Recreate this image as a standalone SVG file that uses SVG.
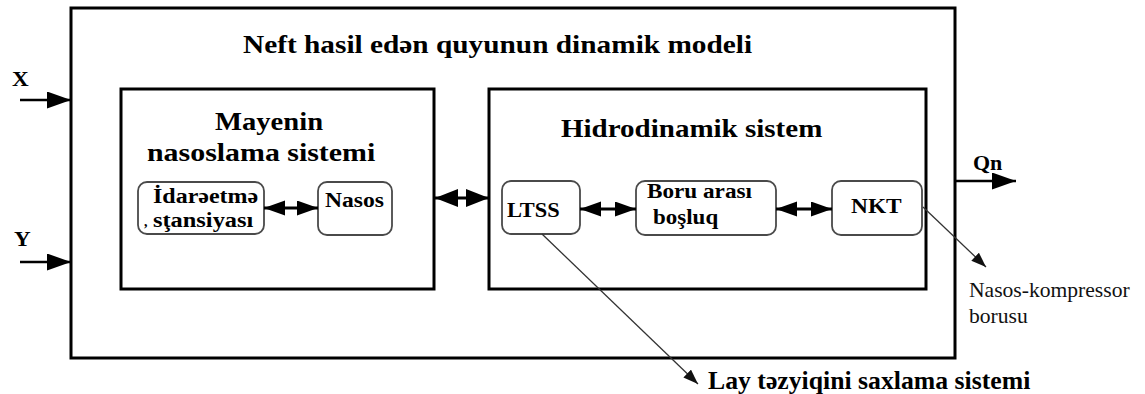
<svg xmlns="http://www.w3.org/2000/svg" width="1145" height="394" viewBox="0 0 1145 394">
  <style>
    .frame { fill: none; stroke: #000; stroke-width: 3; }
    .unit { fill: #fff; stroke: #4a4a4a; stroke-width: 1.8; }
    .bold { font-family: "Liberation Serif", "Times New Roman", serif; font-weight: bold; fill: #000; }
    .plain { font-family: "Liberation Serif", "Times New Roman", serif; fill: #111; }
    .flow { stroke: #000; stroke-width: 2.5; fill: none; }
    .link { stroke: #000; stroke-width: 3; fill: none; }
    .pointer { stroke: #333; stroke-width: 1.3; fill: none; }
  </style>
  <defs>
    <marker id="head" markerUnits="userSpaceOnUse" markerWidth="26" markerHeight="18" refX="24" refY="8.5" orient="auto">
      <path d="M0,0 L24,8.5 L0,17 z" fill="#000"/>
    </marker>
    <marker id="dbl" markerUnits="userSpaceOnUse" markerWidth="24" markerHeight="18" refX="23" refY="9" orient="auto-start-reverse">
      <path d="M0,0 L23,9 L0,18 z" fill="#000"/>
    </marker>
    <marker id="dblSmall" markerUnits="userSpaceOnUse" markerWidth="22" markerHeight="16" refX="21" refY="7.5" orient="auto-start-reverse">
      <path d="M0,0 L21,7.5 L0,15 z" fill="#000"/>
    </marker>
    <marker id="tip" markerUnits="userSpaceOnUse" markerWidth="16" markerHeight="12" refX="15" refY="5.5" orient="auto">
      <path d="M0,0 L15,5.5 L0,11 z" fill="#111"/>
    </marker>
  </defs>

  <!-- outer model boundary -->
  <g id="model">
    <rect class="frame" x="71" y="8" width="884" height="350"/>
    <text class="bold" font-size="26" transform="translate(243 53) scale(1.128 1)">Neft hasil edən quyunun dinamik modeli</text>
  </g>

  <!-- pumping subsystem -->
  <g id="pumping-system">
    <rect class="frame" x="121" y="89" width="313" height="200"/>
    <text class="bold" font-size="26" transform="translate(215 130) scale(1.1 1)">Mayenin</text>
    <text class="bold" font-size="26" transform="translate(147 161) scale(1.15 1)">nasoslama sistemi</text>
  </g>

  <g id="control-station">
    <rect class="unit" x="138" y="182" width="126" height="52" rx="9"/>
    <text class="bold" font-size="20" transform="translate(153 203) scale(1.2 1)">İdarəetmə</text>
    <text class="bold" font-size="14" transform="translate(144 226)">,</text>
    <text class="bold" font-size="20" transform="translate(153 227) scale(1.22 1)">sţansiyası</text>
  </g>

  <g id="pump">
    <rect class="unit" x="318" y="182" width="74" height="53" rx="9"/>
    <text class="bold" font-size="20" transform="translate(325 207) scale(1.18 1)">Nasos</text>
  </g>

  <!-- hydrodynamic subsystem -->
  <g id="hydrodynamic-system">
    <rect class="frame" x="489" y="89" width="437" height="200"/>
    <text class="bold" font-size="26" transform="translate(561 137) scale(1.116 1)">Hidrodinamik sistem</text>
  </g>

  <g id="ltss">
    <rect class="unit" x="502" y="181" width="78" height="53" rx="9"/>
    <text class="bold" font-size="20" transform="translate(507 217) scale(1.12 1)">LTSS</text>
  </g>

  <g id="annulus">
    <rect class="unit" x="636" y="181" width="140" height="54" rx="9"/>
    <text class="bold" font-size="20" transform="translate(647 198) scale(1.16 1)">Boru arası</text>
    <text class="bold" font-size="20" transform="translate(653 224) scale(1.15 1)">boşluq</text>
  </g>

  <g id="nkt">
    <rect class="unit" x="832" y="181" width="90" height="54" rx="9"/>
    <text class="bold" font-size="20" transform="translate(851 213) scale(1.17 1)">NKT</text>
  </g>

  <!-- external labels -->
  <g id="inputs">
    <text class="bold" font-size="21" transform="translate(12 86) scale(1.1 1)">X</text>
    <text class="bold" font-size="21" transform="translate(14 246) scale(1.1 1)">Y</text>
  </g>
  <g id="output">
    <text class="bold" font-size="20" transform="translate(973 170) scale(1.1 1)">Qn</text>
  </g>
  <g id="tubing-note">
    <text class="plain" font-size="20" transform="translate(969 297) scale(1.08 1)">Nasos-kompressor</text>
    <text class="plain" font-size="20" transform="translate(969 323) scale(1.08 1)">borusu</text>
  </g>
  <g id="pressure-note">
    <text class="bold" font-size="25" transform="translate(708 389) scale(1.03 1)">Lay təzyiqini saxlama sistemi</text>
  </g>

  <!-- connectors -->
  <g id="connectors">
    <line class="flow" x1="20" y1="100" x2="71" y2="100" marker-end="url(#head)"/>
    <line class="flow" x1="20" y1="262" x2="71" y2="262" marker-end="url(#head)"/>
    <line class="flow" x1="956" y1="181" x2="1016" y2="181" marker-end="url(#head)"/>

    <line class="link" x1="435" y1="198" x2="489" y2="198" marker-start="url(#dbl)" marker-end="url(#dbl)"/>
    <line class="link" x1="264" y1="208" x2="318" y2="208" marker-start="url(#dblSmall)" marker-end="url(#dblSmall)"/>
    <line class="link" x1="580" y1="209" x2="636" y2="209" marker-start="url(#dblSmall)" marker-end="url(#dblSmall)"/>
    <line class="link" x1="776" y1="209" x2="832" y2="209" marker-start="url(#dblSmall)" marker-end="url(#dblSmall)"/>

    <line class="pointer" x1="542" y1="234" x2="698" y2="384" marker-end="url(#tip)"/>
    <line class="pointer" x1="923" y1="207" x2="986" y2="267" marker-end="url(#tip)"/>
  </g>
</svg>
